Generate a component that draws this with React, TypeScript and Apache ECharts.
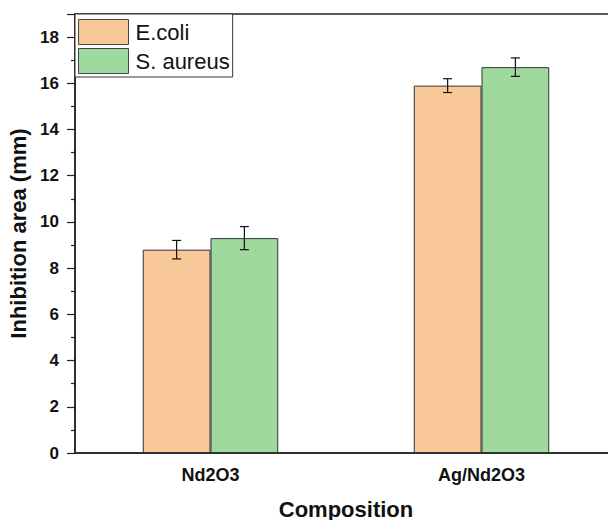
import React, { useEffect, useRef } from "react";
import * as echarts from "echarts";

const categories = ["Nd2O3", "Ag/Nd2O3"];
const seriesNames = ["E.coli", "S. aureus"];
const ecoliValues = [8.8, 15.9];
const ecoliErrors = [0.4, 0.3];
const saureusValues = [9.3, 16.7];
const saureusErrors = [0.5, 0.4];
const colors = ["#F9C898", "#9FD99D"];

const FONT = "'Liberation Sans', Arial, sans-serif";

export default function App() {
  const ref = useRef<HTMLDivElement>(null);
  useEffect(() => {
    const chart = echarts.init(ref.current!, null, { renderer: "svg" });
    const errData = (vals: number[], errs: number[]) =>
      vals.map((v, i) => [i, v - errs[i], v + errs[i]]);
    const makeErr = (sign: number) => (params: any, api: any) => {
      const idx = api.value(0);
      const band = api.size([1, 0])[0];
      const off = sign * band * 0.125;
      const lo = api.coord([idx, api.value(1)]);
      const hi = api.coord([idx, api.value(2)]);
      const x = lo[0] + off;
      const cap = 4.5;
      const style = { stroke: "#111", lineWidth: 1.2 };
      return {
        type: "group",
        children: [
          { type: "line", shape: { x1: x, y1: lo[1], x2: x, y2: hi[1] }, style },
          { type: "line", shape: { x1: x - cap, y1: lo[1], x2: x + cap, y2: lo[1] }, style },
          { type: "line", shape: { x1: x - cap, y1: hi[1], x2: x + cap, y2: hi[1] }, style },
        ],
      };
    };
    chart.setOption({
      animation: false,
      textStyle: { fontFamily: FONT },
      grid: {
        left: 75,
        top: 14,
        bottom: 67,
        right: -9,
        outerBoundsMode: "none",
        containLabel: false,
        show: true,
        borderColor: "#222",
        borderWidth: 1.5,
      },
      legend: {
        left: 75,
        top: 14,
        orient: "vertical",
        data: seriesNames,
        icon: "rect",
        itemWidth: 50,
        itemHeight: 25,
        itemGap: 3,
        padding: [5, 3, 3, 3],
        borderColor: "#333",
        borderWidth: 1,
        backgroundColor: "#fff",
        textStyle: { fontSize: 22, color: "#111", fontFamily: FONT, padding: [0, 0, 0, 2] },
        itemStyle: { borderColor: "#444", borderWidth: 1 },
      },
      xAxis: [
        {
          type: "category",
          data: categories,
          name: "Composition",
          nameLocation: "middle",
          nameGap: 45,
          nameTextStyle: { fontSize: 22, fontWeight: "bold", color: "#111", fontFamily: FONT },
          axisLine: { lineStyle: { color: "#222", width: 1.5 } },
          axisTick: { alignWithLabel: true, length: 7, lineStyle: { color: "#222", width: 1.2 } },
          axisLabel: { fontSize: 18, fontWeight: "bold", color: "#111", margin: 13, fontFamily: FONT },
        },
        {
          type: "category",
          data: categories,
          position: "bottom",
          axisLine: { show: false },
          axisTick: { length: 4, lineStyle: { color: "#222", width: 1.2 } },
          axisLabel: { show: false },
        },
      ],
      yAxis: {
        type: "value",
        min: 0,
        max: 19,
        interval: 2,
        name: "Inhibition area (mm)",
        nameLocation: "middle",
        nameGap: 39,
        nameTextStyle: { fontSize: 22, fontWeight: "bold", color: "#111", fontFamily: FONT },
        axisLine: { show: true, lineStyle: { color: "#222", width: 1.5 } },
        axisTick: { show: true, length: 8, lineStyle: { color: "#222", width: 1.2 } },
        minorTick: { show: true, splitNumber: 2, length: 4, lineStyle: { color: "#222", width: 1.2 } },
        splitLine: { show: false },
        axisLabel: {
          fontSize: 17,
          fontWeight: "bold",
          color: "#111",
          margin: 16,
          fontFamily: FONT,
          formatter: (v: number) => (v > 18 ? "" : String(v)),
        },
      },
      series: [
        {
          name: seriesNames[0],
          type: "bar",
          data: ecoliValues,
          barWidth: "25%",
          barGap: "0%",
          itemStyle: { color: colors[0], borderColor: "#333", borderWidth: 1 },
        },
        {
          name: seriesNames[1],
          type: "bar",
          data: saureusValues,
          barWidth: "25%",
          barGap: "0%",
          itemStyle: { color: colors[1], borderColor: "#333", borderWidth: 1 },
        },
        {
          type: "custom",
          renderItem: makeErr(-1),
          data: errData(ecoliValues, ecoliErrors),
          z: 10,
          encode: { x: 0, y: [1, 2] },
        },
        {
          type: "custom",
          renderItem: makeErr(1),
          data: errData(saureusValues, saureusErrors),
          z: 10,
          encode: { x: 0, y: [1, 2] },
        },
      ],
    });
    return () => chart.dispose();
  }, []);
  return (
    <div
      ref={ref}
      style={{ width: 608, height: 520, position: "absolute", left: 0, top: 0 }}
    />
  );
}
